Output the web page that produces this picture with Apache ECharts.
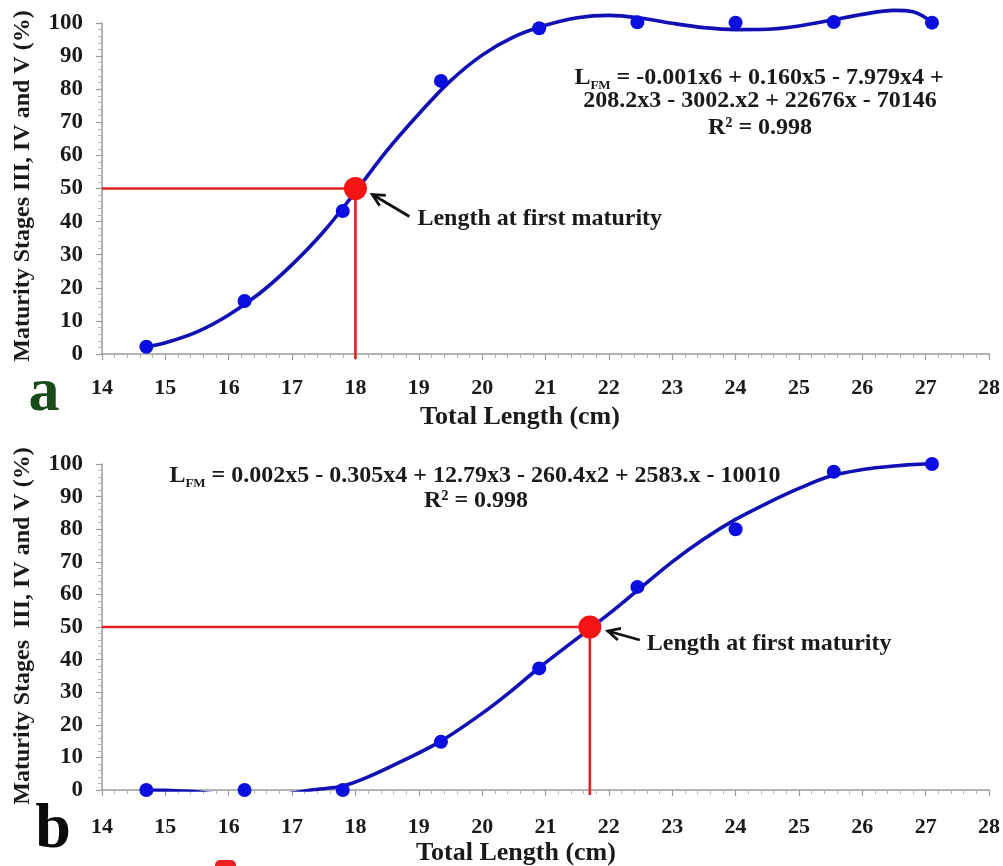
<!DOCTYPE html>
<html>
<head>
<meta charset="utf-8">
<script src="https://cdn.jsdelivr.net/npm/echarts@6/dist/echarts.min.js"></script>
<style>html,body{margin:0;padding:0;background:#fff}#c{width:1003px;height:866px}</style>
</head>
<body>
<div id="c"></div>
<script>
// ---- data ----
const lengthClasses = [14.7, 16.25, 17.8, 19.35, 20.9, 22.45, 24.0, 25.55, 27.1];
const maturityA = [2.2, 16, 43.2, 82.5, 98.4, 100.2, 100.1, 100.3, 100.1];
const maturityB = [0, 0, 0, 14.8, 37.3, 62.3, 80, 97.6, 100];

const fitAX = [14.7, 15.0, 15.5, 16.0, 16.5, 17.0, 17.5, 18.0, 18.5, 19.0, 19.5, 20.0, 20.5, 21.0, 21.5, 22.0, 22.5, 23.0, 23.5, 24.0, 24.5, 25.0, 25.5, 26.0, 26.5, 26.8, 27.1];
const fitAY = [2.2, 3.4, 6.7, 11.8, 18.5, 27.0, 37.0, 49.0, 61.5, 72.5, 82.5, 90.3, 95.8, 99.3, 101.6, 102.3, 101.5, 99.9, 98.6, 98.0, 98.1, 99.1, 100.8, 102.6, 103.8, 103.4, 100.2];

const fitBX = [14.7, 15.0, 15.4, 15.8, 16.25, 16.7, 17.0, 17.3, 17.8, 18.2, 18.75, 19.35, 20.0, 20.5, 20.9, 21.5, 22.0, 22.5, 23.0, 23.5, 24.0, 24.5, 25.0, 25.5, 26.0, 26.5, 27.1];
const fitBY = [0, -0.1, -0.4, -1.2, -1.8, -1.6, -1.0, 0, 1.2, 4.0, 9.0, 15.0, 23.5, 31.0, 37.5, 46.5, 54.0, 62.0, 70.0, 77.0, 83.0, 88.0, 92.5, 96.3, 98.3, 99.4, 100.2];

const lfmA = [18.0, 50];
const lfmB = [21.7, 50];

const xMin = 14, xMax = 28, xStep = 1;
const yMin = 0, yMax = 100, yStep = 10;

const yTitleA = 'Maturity Stages III, IV and V (%)';
const yTitleB = 'Maturity Stages  III, IV and V (%)';
const xTitle = 'Total Length (cm)';
const eqA1 = ' = -0.001x6 + 0.160x5 - 7.979x4 +';
const eqA2 = '208.2x3 - 3002.x2 + 22676x - 70146';
const eqB1 = ' = 0.002x5 - 0.305x4 + 12.79x3 - 260.4x2 + 2583.x - 10010';
const r2Text = 'R\u00B2 = 0.998';
const annot = 'Length at first maturity';

// ---- chart ----
const FF = '"Liberation Serif", "Times New Roman", serif';
const TXT = '#1a1a1a';
const pairs = (xs, ys) => xs.map((x, i) => [x, ys[i]]);
const chart = echarts.init(document.getElementById('c'), null, {renderer: 'canvas'});

const axisCol = '#9c9c9c';
function xAx(i) {
  return {
    type: 'value', gridIndex: i, min: xMin, max: xMax, interval: xStep,
    axisLine: {show: true, onZero: false, lineStyle: {color: axisCol, width: 1.5}},
    axisTick: {show: true, length: 6, lineStyle: {color: axisCol, width: 1.2}},
    minorTick: {show: true, splitNumber: 5, length: 4, lineStyle: {color: '#b4b4b4'}},
    splitLine: {show: false},
    axisLabel: {margin: i ? 26 : 23, fontFamily: FF, fontWeight: 'bold', fontSize: 22, color: TXT}
  };
}
function yAx(i) {
  return {
    type: 'value', gridIndex: i, min: yMin, max: yMax, interval: yStep,
    axisLine: {show: true, lineStyle: {color: axisCol, width: 1.5}},
    axisTick: {show: true, length: 6, lineStyle: {color: axisCol, width: 1.2}},
    minorTick: {show: true, splitNumber: 5, length: 4, lineStyle: {color: '#b4b4b4'}},
    splitLine: {show: false},
    axisLabel: {margin: 19, fontFamily: FF, fontWeight: 'bold', fontSize: 23, color: TXT}
  };
}
function panelSeries(i, fx, fy, dots, lfm, clip) {
  return [
    {type: 'line', xAxisIndex: i, yAxisIndex: i, data: pairs(fx, fy), smooth: 0.35, showSymbol: false,
     clip: clip, lineStyle: {color: '#1010b4', width: 3.6}, z: 3, silent: true},
    {type: 'line', xAxisIndex: i, yAxisIndex: i, data: [[xMin, lfm[1]], [lfm[0], lfm[1]], [lfm[0], -1.5]],
     showSymbol: false, clip: false, lineStyle: {color: '#e0221e', width: 2.6}, z: 2, silent: true},
    {type: 'scatter', xAxisIndex: i, yAxisIndex: i, data: pairs(lengthClasses, dots), symbolSize: 14,
     itemStyle: {color: '#0a0ee0', opacity: 1}, clip: false, z: 4},
    {type: 'scatter', xAxisIndex: i, yAxisIndex: i, data: [lfm], symbolSize: 23,
     itemStyle: {color: '#f51414', opacity: 1}, clip: false, z: 5}
  ];
}

const eqRich = {
  a: {font: 'bold 24px ' + FF, fill: TXT, lineHeight: 27, verticalAlign: 'bottom'},
  s: {font: 'bold 13px ' + FF, fill: TXT, lineHeight: 13, verticalAlign: 'bottom', padding: [0, 0, -3, 0]}
};
const baseGraphic = [
  {type: 'text', rotation: Math.PI / 2, x: 23, y: 186, style: {text: yTitleA, font: 'bold 24px ' + FF, fill: TXT, textAlign: 'center', textVerticalAlign: 'middle'}},
  {type: 'text', rotation: Math.PI / 2, x: 23, y: 626, style: {text: yTitleB, font: 'bold 24px ' + FF, fill: TXT, textAlign: 'center', textVerticalAlign: 'middle'}},
  {type: 'text', x: 520, y: 417, style: {text: xTitle, font: 'bold 26px ' + FF, fill: TXT, textAlign: 'center', textVerticalAlign: 'middle'}},
  {type: 'text', x: 516, y: 853, style: {text: xTitle, font: 'bold 26px ' + FF, fill: TXT, textAlign: 'center', textVerticalAlign: 'middle'}},
  {type: 'text', x: 44, y: 394, style: {text: 'a', font: 'bold 62px ' + FF, fill: '#1b4a1b', textAlign: 'center', textVerticalAlign: 'middle'}},
  {type: 'text', x: 53, y: 830, style: {text: 'b', font: 'bold 64px ' + FF, fill: '#0a0a0a', textAlign: 'center', textVerticalAlign: 'middle'}},
  {type: 'text', x: 759, y: 76, style: {text: '{a|L}{s|FM}{a|' + eqA1 + '}', textAlign: 'center', textVerticalAlign: 'middle', rich: eqRich}},
  {type: 'text', x: 760, y: 101, style: {text: eqA2, font: 'bold 24px ' + FF, fill: TXT, textAlign: 'center', textVerticalAlign: 'middle'}},
  {type: 'text', x: 760, y: 128, style: {text: r2Text, font: 'bold 24px ' + FF, fill: TXT, textAlign: 'center', textVerticalAlign: 'middle'}},
  {type: 'text', x: 475, y: 474, style: {text: '{a|L}{s|FM}{a|' + eqB1 + '}', textAlign: 'center', textVerticalAlign: 'middle', rich: eqRich}},
  {type: 'text', x: 476, y: 501, style: {text: r2Text, font: 'bold 24px ' + FF, fill: TXT, textAlign: 'center', textVerticalAlign: 'middle'}},
  {type: 'rect', shape: {x: 215, y: 860, width: 21, height: 12, r: 5}, style: {fill: '#f02020'}}
];

const option = {
  animation: false,
  backgroundColor: '#ffffff',
  grid: [
    {left: 102, top: 23, width: 887, height: 331},
    {left: 102, top: 464, width: 887, height: 326}
  ],
  xAxis: [xAx(0), xAx(1)],
  yAxis: [yAx(0), yAx(1)],
  series: [].concat(
    panelSeries(0, fitAX, fitAY, maturityA, lfmA, false),
    panelSeries(1, fitBX, fitBY, maturityB, lfmB, true)
  ),
  graphic: baseGraphic
};
chart.setOption(option);

// annotation arrows + labels placed relative to the L50 point of each panel
function arrowGroup(gi, pt, headOff, tailOff, textOff) {
  const p = chart.convertToPixel({gridIndex: gi}, pt);
  const hx = p[0] + headOff[0], hy = p[1] + headOff[1];
  const tx = p[0] + tailOff[0], ty = p[1] + tailOff[1];
  const dx = hx - tx, dy = hy - ty, L = Math.hypot(dx, dy);
  const ux = dx / L, uy = dy / L, px = -uy, py = ux;
  const hl = 12, hw = 6;
  return [
    {type: 'line', shape: {x1: tx, y1: ty, x2: hx, y2: hy}, style: {stroke: '#111', lineWidth: 2.8}},
    {type: 'polyline', shape: {points: [[hx - hl * ux + hw * px, hy - hl * uy + hw * py], [hx, hy], [hx - hl * ux - hw * px, hy - hl * uy - hw * py]]},
     style: {stroke: '#111', lineWidth: 2.8, fill: null}},
    {type: 'text', x: p[0] + textOff[0], y: p[1] + textOff[1], style: {text: annot, font: 'bold 24px ' + FF, fill: TXT, textAlign: 'left', textVerticalAlign: 'middle'}}
  ];
}
chart.setOption({
  graphic: baseGraphic.concat(
    arrowGroup(0, lfmA, [17, 6], [54, 28], [62, 30]),
    arrowGroup(1, lfmB, [18, 4], [50, 13], [57, 17])
  )
});
</script>
</body>
</html>
